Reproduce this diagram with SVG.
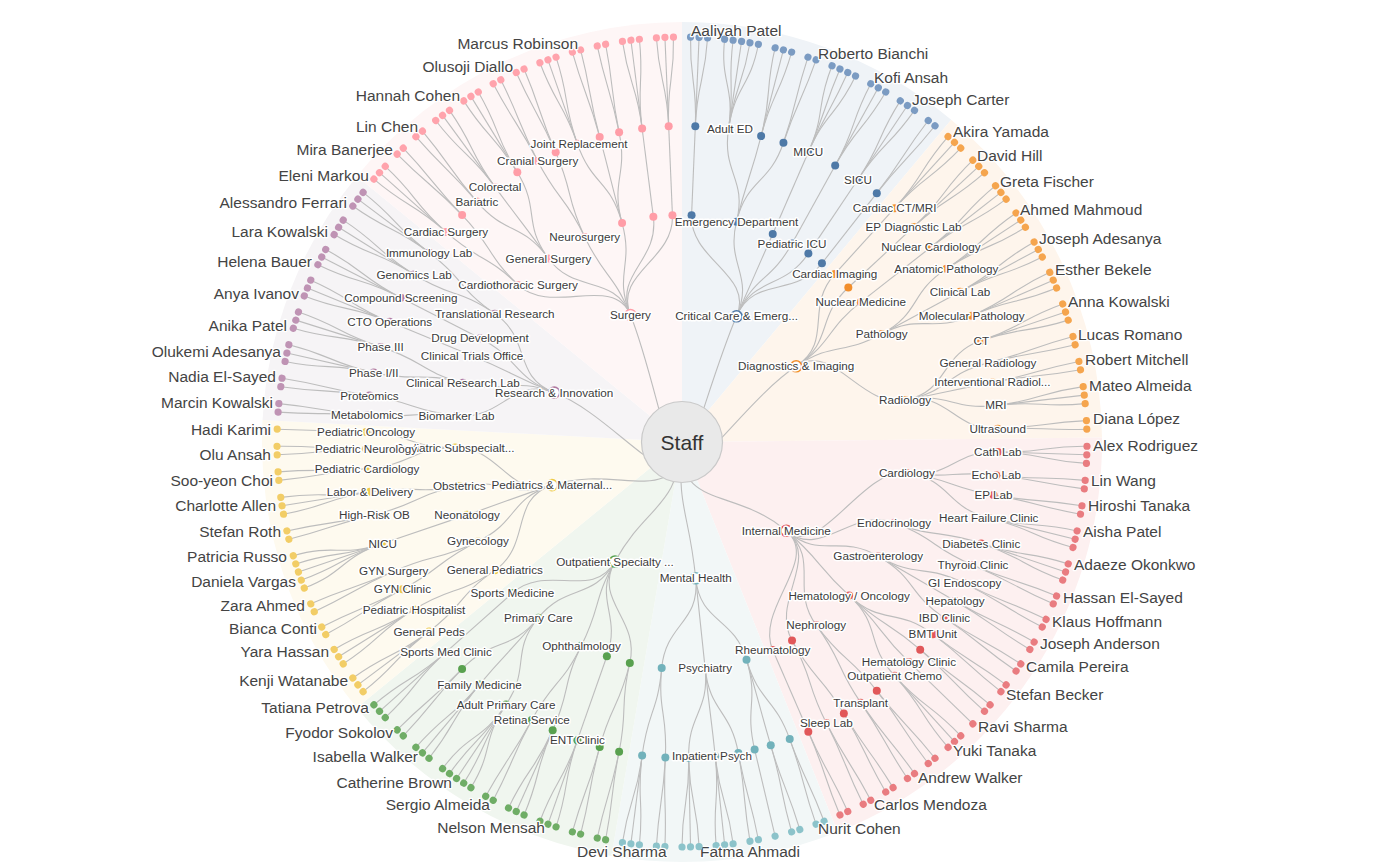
<svg xmlns="http://www.w3.org/2000/svg" width="1381" height="867" viewBox="0 0 1381 867">
<style>
.lk{fill:none;stroke:#bdbdbd;stroke-width:1.1}
.lb{font-family:"Liberation Sans",Arial,sans-serif;font-size:11.7px;fill:#3b3b3b;text-anchor:middle;paint-order:stroke;stroke:#fff;stroke-width:3px;stroke-linejoin:round}
.nm{font-family:"Liberation Sans",Arial,sans-serif;font-size:15.5px;fill:#444;paint-order:stroke;stroke:#fff;stroke-width:2.5px;stroke-linejoin:round}
.e{text-anchor:end}
.ring{fill:#fff;stroke-width:1.6}
.cc{fill:#4e79a7}.dg{fill:#f28e2b}.im{fill:#e15759}.mh{fill:#72b2bb}.os{fill:#59a14f}.pd{fill:#edc948}.rs{fill:#b07aa1}.sg{fill:#ff9da7}
</style>
<defs>
<g id="L1" fill="none" stroke="#bdbdbd" stroke-width="1.1"><path d="M682 126V37"/></g>
<g id="L2" fill="none" stroke="#bdbdbd" stroke-width="1.1"><path d="M682 126C682 81.5 678.2 81.52 677.73 37.02"/><path d="M682 126C682 81.5 685.8 81.52 686.27 37.02"/></g>
<g id="L3" fill="none" stroke="#bdbdbd" stroke-width="1.1"><path d="M682 126C682 81.5 674.4 81.58 673.46 37.09"/><path d="M682 126V37"/><path d="M682 126C682 81.5 689.6 81.58 690.54 37.09"/></g>
<g id="L4" fill="none" stroke="#bdbdbd" stroke-width="1.1"><path d="M682 126C682 81.5 670.6 81.68 669.19 37.2"/><path d="M682 126C682 81.5 678.2 81.52 677.73 37.02"/><path d="M682 126C682 81.5 685.8 81.52 686.27 37.02"/><path d="M682 126C682 81.5 693.4 81.68 694.81 37.2"/></g>
<g id="L5" fill="none" stroke="#bdbdbd" stroke-width="1.1"><path d="M682 126C682 81.5 666.8 81.82 664.93 37.36"/><path d="M682 126C682 81.5 674.4 81.58 673.46 37.09"/><path d="M682 126V37"/><path d="M682 126C682 81.5 689.6 81.58 690.54 37.09"/><path d="M682 126C682 81.5 697.2 81.82 699.07 37.36"/></g>
<g id="D1"><circle cx="682" cy="37" r="3.6"/></g>
<g id="D2"><circle cx="677.73" cy="37.02" r="3.6"/><circle cx="686.27" cy="37.02" r="3.6"/></g>
<g id="D3"><circle cx="673.46" cy="37.09" r="3.6"/><circle cx="682" cy="37" r="3.6"/><circle cx="690.54" cy="37.09" r="3.6"/></g>
<g id="D4"><circle cx="669.19" cy="37.2" r="3.6"/><circle cx="677.73" cy="37.02" r="3.6"/><circle cx="686.27" cy="37.02" r="3.6"/><circle cx="694.81" cy="37.2" r="3.6"/></g>
<g id="D5"><circle cx="664.93" cy="37.36" r="3.6"/><circle cx="673.46" cy="37.09" r="3.6"/><circle cx="682" cy="37" r="3.6"/><circle cx="690.54" cy="37.09" r="3.6"/><circle cx="699.07" cy="37.36" r="3.6"/></g>
</defs>
<rect width="1381" height="867" fill="#fff"/>
<g id="sectors">
<path d="M682 442L682 22A420 420 0 0 1 951.22 119.63Z" fill="#eff3f7"/>
<path d="M682 442L951.22 119.63A420 420 0 0 1 1101.98 437.57Z" fill="#fef5ec"/>
<path d="M682 442L1101.98 437.57A420 420 0 0 1 837.6 832.11Z" fill="#fdf0f0"/>
<path d="M682 442L837.6 832.11A420 420 0 0 1 611.49 856.04Z" fill="#f2f7f7"/>
<path d="M682 442L611.49 856.04A420 420 0 0 1 356.81 707.81Z" fill="#f0f6ef"/>
<path d="M682 442L356.81 707.81A420 420 0 0 1 262.58 419.88Z" fill="#fefaef"/>
<path d="M682 442L262.58 419.88A420 420 0 0 1 356.8 176.2Z" fill="#f6f4f6"/>
<path d="M682 442L356.8 176.2A420 420 0 0 1 682 22Z" fill="#fef6f6"/>
</g>
<g id="connectors" class="lk">
<path d="M682 442C676.84 510.31 709.27 379.16 736.54 316.32"/>
<path d="M736.54 316.32C754.45 275.04 689.67 260.16 691.57 215.2"/>
<path d="M736.54 316.32C754.45 275.04 725.7 265.33 736.51 221.64"/>
<path d="M736.54 316.32C754.45 275.04 754.74 275.17 772.73 233.92"/>
<path d="M736.54 316.32C754.45 275.04 770.22 282.81 792.03 243.45"/>
<path d="M736.54 316.32C754.45 275.04 783.32 290.81 808.37 253.43"/>
<path d="M736.54 316.32C754.45 275.04 794.19 298.69 821.93 263.26"/>
<path d="M691.57 215.2L695.32 126.28"/>
<path d="M736.51 221.64C747.2 178.44 721.93 173.45 728.47 129.43"/>
<path d="M736.51 221.64C747.2 178.44 749.96 179.14 761.1 136.06"/>
<path d="M736.51 221.64C747.2 178.44 769.16 184.87 783.45 142.73"/>
<path d="M772.73 233.92L808.3 152.34"/>
<path d="M792.03 243.45L835.17 165.6"/>
<path d="M808.37 253.43L857.91 179.5"/>
<path d="M821.93 263.26L876.79 193.18"/>
<path d="M682 442C676.84 510.31 739.1 404.16 796.2 366.31"/>
<path d="M796.2 366.31C833.71 341.45 804.45 307.35 834.72 274.05"/>
<path d="M796.2 366.31C833.71 341.45 815.35 318.14 848.33 287.52"/>
<path d="M796.2 366.31C833.71 341.45 825.31 329.82 860.75 302.08"/>
<path d="M796.2 366.31C833.71 341.45 842.12 355.47 881.71 334.07"/>
<path d="M796.2 366.31C833.71 341.45 860.88 408.42 905.11 400.12"/>
<path d="M834.72 274.05L894.6 208.21"/>
<path d="M848.33 287.52L913.54 226.95"/>
<path d="M860.75 302.08L930.83 247.22"/>
<path d="M881.71 334.07C920.85 312.91 909.13 293.25 946.35 268.87"/>
<path d="M881.71 334.07L960 291.75"/>
<path d="M881.71 334.07C920.85 312.91 930.88 333.49 971.67 315.7"/>
<path d="M905.11 400.12C948.85 391.91 939.13 354.84 981.28 340.55"/>
<path d="M905.11 400.12C948.85 391.91 944.86 374.04 987.94 362.9"/>
<path d="M905.11 400.12C948.85 391.91 948.63 390.79 992.33 382.39"/>
<path d="M905.11 400.12C948.85 391.91 951.68 410.58 995.88 405.43"/>
<path d="M905.11 400.12C948.85 391.91 953.26 430.56 997.72 428.68"/>
<path d="M682 442C676.84 510.31 734.18 486.38 786.36 530.76"/>
<path d="M786.36 530.76C820.64 559.92 862.29 466.86 906.87 473.01"/>
<path d="M786.36 530.76C820.64 559.92 852.1 506.74 894.15 522.75"/>
<path d="M786.36 530.76C820.64 559.92 839.3 533.55 878.19 556.19"/>
<path d="M786.36 530.76C820.64 559.92 816.01 565.16 849.14 595.61"/>
<path d="M786.36 530.76C820.64 559.92 789.6 588.79 816.2 625.08"/>
<path d="M786.36 530.76C820.64 559.92 770.22 601.19 792.03 640.55"/>
<path d="M786.36 530.76C820.64 559.92 754.75 608.83 772.73 650.08"/>
<path d="M906.87 473.01C950.95 479.09 953.36 450.58 997.84 451.99"/>
<path d="M906.87 473.01C950.95 479.09 951.99 470.57 996.25 475.25"/>
<path d="M906.87 473.01C950.95 479.09 949.65 487.58 993.52 495.05"/>
<path d="M906.87 473.01C950.95 479.09 945.56 507.19 988.76 517.87"/>
<path d="M894.15 522.75C935.74 538.58 939.13 529.16 981.27 543.45"/>
<path d="M894.15 522.75C935.74 538.58 932 547.88 972.98 565.23"/>
<path d="M878.19 556.19C916.65 578.58 924.81 563.48 964.61 583.39"/>
<path d="M878.19 556.19L955.11 600.96"/>
<path d="M878.19 556.19C916.65 578.58 907.54 593.14 944.5 617.91"/>
<path d="M849.14 595.61C881.91 625.72 897.52 607.11 932.85 634.18"/>
<path d="M849.14 595.61C881.91 625.72 886.65 620.41 920.19 649.65"/>
<path d="M849.14 595.61C881.91 625.72 876.96 630.95 908.91 661.92"/>
<path d="M849.14 595.61C881.91 625.72 864.68 642.85 894.62 675.77"/>
<path d="M816.2 625.08C842.51 660.98 849.35 655.79 876.78 690.83"/>
<path d="M816.2 625.08C842.51 660.98 835.51 665.93 860.68 702.64"/>
<path d="M792.03 640.55C813.6 679.47 821.05 675.19 843.84 713.42"/>
<path d="M792.03 640.55C813.6 679.47 806.03 683.52 826.36 723.1"/>
<path d="M772.73 650.08L808.31 731.66"/>
<path d="M682 442C676.84 510.31 688.85 510.16 695.7 578.31"/>
<path d="M695.7 578.31C700.2 623.09 733.72 616.5 746.51 659.64"/>
<path d="M695.7 578.31C700.2 623.09 700.52 623.06 705.1 667.82"/>
<path d="M695.7 578.31C700.2 623.09 665.71 623.27 661.69 668.09"/>
<path d="M746.51 659.64C759.15 702.31 774.55 697.24 789.72 739.07"/>
<path d="M746.51 659.64C759.15 702.31 758.24 702.57 770.74 745.28"/>
<path d="M746.51 659.64C759.15 702.31 744.41 706.23 754.64 749.54"/>
<path d="M705.1 667.82C709.63 712.09 730.4 709.15 738.34 752.94"/>
<path d="M705.1 667.82C709.63 712.09 710.57 711.99 715.26 756.25"/>
<path d="M705.1 667.82C709.63 712.09 687.73 713.44 688.67 757.93"/>
<path d="M661.69 668.09C657.71 712.41 667.7 713.12 665.35 757.56"/>
<path d="M661.69 668.09C657.71 712.41 647.74 711.33 642.13 755.48"/>
<path d="M682 442C676.84 510.31 648.48 501.74 614.96 561.48"/>
<path d="M614.96 561.48C592.95 600.73 640.17 619.13 629.82 662.92"/>
<path d="M614.96 561.48C592.95 600.73 621.76 613.74 606.87 656.2"/>
<path d="M614.96 561.48C592.95 600.73 601.43 605.2 581.51 645.55"/>
<path d="M614.96 561.48C592.95 600.73 566.82 582.92 538.34 617.76"/>
<path d="M614.96 561.48C592.95 600.73 546.07 563.02 512.46 592.95"/>
<path d="M629.82 662.92C619.6 706.23 627.98 708.07 619.13 751.68"/>
<path d="M629.82 662.92C619.6 706.23 611.27 704.13 599.68 747.09"/>
<path d="M606.87 656.2L577.41 740.19"/>
<path d="M581.51 645.55C561.81 685.45 570.88 689.72 552.67 730.32"/>
<path d="M581.51 645.55C561.81 685.45 552.91 680.85 531.75 719.99"/>
<path d="M538.34 617.76C510.18 652.22 530.86 667.54 506.09 704.5"/>
<path d="M538.34 617.76C510.18 652.22 507.97 650.39 479.45 684.55"/>
<path d="M538.34 617.76C510.18 652.22 493.05 636.96 462.08 668.92"/>
<path d="M512.46 592.95L445.98 652.13"/>
<path d="M682 442C676.84 510.31 616.98 463.56 551.96 485.12"/>
<path d="M551.96 485.12C509.24 499.28 531.88 544.91 494.76 570.35"/>
<path d="M551.96 485.12C509.24 499.28 518.38 521.71 477.93 541.42"/>
<path d="M551.96 485.12C509.24 499.28 509.63 500.43 467.01 514.87"/>
<path d="M551.96 485.12C509.24 499.28 503.45 477.28 459.3 486"/>
<path d="M551.96 485.12C509.24 499.28 500.05 446.48 455.07 447.59"/>
<path d="M494.76 570.35C458.05 595.51 464.73 604.81 429.12 631.5"/>
<path d="M494.76 570.35C458.05 595.51 451.79 585.93 414.06 609.52"/>
<path d="M477.93 541.42C437.92 560.91 441.8 568.57 402.43 589.31"/>
<path d="M477.93 541.42C437.92 560.91 434.28 553.13 393.68 571.35"/>
<path d="M467.01 514.87L382.72 543.45"/>
<path d="M459.3 486C415.65 494.62 417.77 504.41 374.46 514.64"/>
<path d="M459.3 486C415.65 494.62 413.89 484.76 369.94 491.76"/>
<path d="M455.07 447.59C410.58 448.68 411.46 464.87 367.12 468.62"/>
<path d="M455.07 447.59C410.58 448.68 410.56 447.73 366.07 448.67"/>
<path d="M455.07 447.59C410.58 448.68 410.64 433.42 366.16 432.01"/>
<path d="M682 442C676.84 510.31 618.11 417.3 554.22 392.59"/>
<path d="M554.22 392.59C512.25 376.36 501.22 420.94 456.52 415.74"/>
<path d="M554.22 392.59C512.25 376.36 506.28 394.59 462.84 382.87"/>
<path d="M554.22 392.59C512.25 376.36 513.67 372.79 472.05 355.68"/>
<path d="M554.22 392.59C512.25 376.36 520.1 358.87 480.07 338.32"/>
<path d="M554.22 392.59C512.25 376.36 531.88 339.09 494.76 313.64"/>
<path d="M456.52 415.74C412.32 410.59 411.46 419.13 367.12 415.39"/>
<path d="M456.52 415.74C412.32 410.59 413.45 402.08 369.43 395.54"/>
<path d="M462.84 382.87C419.87 371.27 417.12 382.39 373.71 372.62"/>
<path d="M462.84 382.87C419.87 371.27 423.09 360.28 380.65 346.89"/>
<path d="M472.05 355.68L389.73 321.84"/>
<path d="M480.07 338.32L400.9 297.66"/>
<path d="M494.76 313.64C458.06 288.48 451.8 298.08 414.07 274.49"/>
<path d="M494.76 313.64C458.06 288.48 464.71 279.22 429.09 252.54"/>
<path d="M682 442C676.84 510.31 656.23 378.53 630.46 315.06"/>
<path d="M630.46 315.06C613.53 273.37 550.62 316.05 518.14 284.91"/>
<path d="M630.46 315.06C613.53 273.37 574.92 294.83 548.44 258.45"/>
<path d="M630.46 315.06C613.53 273.37 604.02 277.55 584.74 236.89"/>
<path d="M630.46 315.06C613.53 273.37 633.97 266.45 622.09 223.05"/>
<path d="M630.46 315.06C613.53 273.37 659.04 261.45 653.36 216.81"/>
<path d="M630.46 315.06C613.53 273.37 674.33 260.16 672.43 215.2"/>
<path d="M518.14 284.91C486.01 254.11 479.21 261.47 445.98 231.88"/>
<path d="M518.14 284.91C486.01 254.11 493.08 247.01 462.11 215.05"/>
<path d="M548.44 258.45C522.26 222.47 505.77 235.45 476.89 201.6"/>
<path d="M548.44 258.45C522.26 222.47 521.48 223.03 495.17 187.14"/>
<path d="M548.44 258.45C522.26 222.47 540.51 210.29 517.32 172.31"/>
<path d="M584.74 236.89C565.67 196.68 557.98 200.48 537.65 160.9"/>
<path d="M584.74 236.89C565.67 196.68 573.48 193.13 555.69 152.34"/>
<path d="M622.09 223.05C610.35 180.12 592.13 185.8 577.4 143.81"/>
<path d="M622.09 223.05C610.35 180.12 611.27 179.87 599.68 136.91"/>
<path d="M622.09 223.05C610.35 180.12 627.98 175.93 619.12 132.32"/>
<path d="M653.36 216.81L642.13 128.52"/>
<path d="M672.43 215.2L668.68 126.28"/>
<use href="#L3" transform="rotate(2.416 682 442)"/>
<use href="#L5" transform="rotate(8.456 682 442)"/>
<use href="#L3" transform="rotate(14.497 682 442)"/>
<use href="#L2" transform="rotate(18.725 682 442)"/>
<use href="#L4" transform="rotate(23.557 682 442)"/>
<use href="#L3" transform="rotate(28.993 682 442)"/>
<use href="#L3" transform="rotate(33.825 682 442)"/>
<use href="#L2" transform="rotate(38.054 682 442)"/>
<use href="#L3" transform="rotate(42.282 682 442)"/>
<use href="#L3" transform="rotate(47.114 682 442)"/>
<use href="#L3" transform="rotate(51.946 682 442)"/>
<use href="#L3" transform="rotate(56.778 682 442)"/>
<use href="#L3" transform="rotate(61.611 682 442)"/>
<use href="#L3" transform="rotate(66.443 682 442)"/>
<use href="#L3" transform="rotate(71.275 682 442)"/>
<use href="#L2" transform="rotate(75.503 682 442)"/>
<use href="#L2" transform="rotate(79.127 682 442)"/>
<use href="#L3" transform="rotate(83.355 682 442)"/>
<use href="#L2" transform="rotate(87.584 682 442)"/>
<use href="#L3" transform="rotate(91.812 682 442)"/>
<use href="#L2" transform="rotate(96.04 682 442)"/>
<use href="#L2" transform="rotate(99.664 682 442)"/>
<use href="#L3" transform="rotate(103.892 682 442)"/>
<use href="#L3" transform="rotate(108.725 682 442)"/>
<use href="#L2" transform="rotate(112.953 682 442)"/>
<use href="#L2" transform="rotate(116.577 682 442)"/>
<use href="#L2" transform="rotate(120.201 682 442)"/>
<use href="#L2" transform="rotate(123.825 682 442)"/>
<use href="#L2" transform="rotate(127.449 682 442)"/>
<use href="#L2" transform="rotate(131.073 682 442)"/>
<use href="#L1" transform="rotate(134.094 682 442)"/>
<use href="#L3" transform="rotate(137.718 682 442)"/>
<use href="#L2" transform="rotate(141.946 682 442)"/>
<use href="#L2" transform="rotate(145.57 682 442)"/>
<use href="#L2" transform="rotate(149.194 682 442)"/>
<use href="#L2" transform="rotate(152.818 682 442)"/>
<use href="#L2" transform="rotate(156.442 682 442)"/>
<use href="#L2" transform="rotate(160.067 682 442)"/>
<use href="#L2" transform="rotate(163.691 682 442)"/>
<use href="#L1" transform="rotate(166.711 682 442)"/>
<use href="#L2" transform="rotate(169.731 682 442)"/>
<use href="#L3" transform="rotate(173.959 682 442)"/>
<use href="#L3" transform="rotate(178.791 682 442)"/>
<use href="#L2" transform="rotate(183.02 682 442)"/>
<use href="#L3" transform="rotate(187.248 682 442)"/>
<use href="#L2" transform="rotate(191.476 682 442)"/>
<use href="#L2" transform="rotate(195.1 682 442)"/>
<use href="#L3" transform="rotate(199.328 682 442)"/>
<use href="#L3" transform="rotate(204.16 682 442)"/>
<use href="#L2" transform="rotate(208.389 682 442)"/>
<use href="#L5" transform="rotate(213.825 682 442)"/>
<use href="#L3" transform="rotate(219.865 682 442)"/>
<use href="#L2" transform="rotate(224.093 682 442)"/>
<use href="#L3" transform="rotate(228.321 682 442)"/>
<use href="#L3" transform="rotate(233.154 682 442)"/>
<use href="#L3" transform="rotate(237.986 682 442)"/>
<use href="#L2" transform="rotate(242.214 682 442)"/>
<use href="#L2" transform="rotate(245.838 682 442)"/>
<use href="#L5" transform="rotate(251.274 682 442)"/>
<use href="#L2" transform="rotate(256.711 682 442)"/>
<use href="#L3" transform="rotate(260.939 682 442)"/>
<use href="#L2" transform="rotate(265.167 682 442)"/>
<use href="#L2" transform="rotate(268.791 682 442)"/>
<use href="#L1" transform="rotate(271.811 682 442)"/>
<use href="#L2" transform="rotate(274.831 682 442)"/>
<use href="#L2" transform="rotate(278.455 682 442)"/>
<use href="#L3" transform="rotate(282.684 682 442)"/>
<use href="#L3" transform="rotate(287.516 682 442)"/>
<use href="#L3" transform="rotate(292.348 682 442)"/>
<use href="#L3" transform="rotate(297.18 682 442)"/>
<use href="#L3" transform="rotate(302.013 682 442)"/>
<use href="#L3" transform="rotate(306.845 682 442)"/>
<use href="#L3" transform="rotate(311.677 682 442)"/>
<use href="#L2" transform="rotate(315.905 682 442)"/>
<use href="#L2" transform="rotate(319.529 682 442)"/>
<use href="#L3" transform="rotate(323.757 682 442)"/>
<use href="#L3" transform="rotate(328.59 682 442)"/>
<use href="#L2" transform="rotate(332.818 682 442)"/>
<use href="#L2" transform="rotate(336.442 682 442)"/>
<use href="#L3" transform="rotate(340.671 682 442)"/>
<use href="#L2" transform="rotate(344.899 682 442)"/>
<use href="#L2" transform="rotate(348.523 682 442)"/>
<use href="#L3" transform="rotate(352.752 682 442)"/>
<use href="#L3" transform="rotate(357.584 682 442)"/>
</g>
<g id="n-staff"><circle cx="682" cy="442" r="40.5" fill="#e9e9e9" stroke="#c9c9c9" stroke-width="1.2"/><text x="682" y="449.5" text-anchor="middle" font-family="Liberation Sans, Arial, sans-serif" font-size="21" fill="#333">Staff</text></g>
<g id="leaves">
<g id="lf-cc-a"><use href="#D3" transform="rotate(2.416 682 442)" fill="#7b9bc2"/><text class="nm" x="691" y="36">Aaliyah Patel</text></g>
<g id="lf-cc-b"><use href="#D5" transform="rotate(8.456 682 442)" fill="#7b9bc2"/></g>
<g id="lf-cc-c"><use href="#D3" transform="rotate(14.497 682 442)" fill="#7b9bc2"/></g>
<g id="lf-cc-d"><use href="#D2" transform="rotate(18.725 682 442)" fill="#7b9bc2"/><text class="nm" x="818" y="59">Roberto Bianchi</text></g>
<g id="lf-cc-e"><use href="#D4" transform="rotate(23.557 682 442)" fill="#7b9bc2"/></g>
<g id="lf-cc-f"><use href="#D3" transform="rotate(28.993 682 442)" fill="#7b9bc2"/><text class="nm" x="874" y="83">Kofi Ansah</text></g>
<g id="lf-cc-g"><use href="#D3" transform="rotate(33.825 682 442)" fill="#7b9bc2"/><text class="nm" x="912" y="105">Joseph Carter</text></g>
<g id="lf-cc-h"><use href="#D2" transform="rotate(38.054 682 442)" fill="#7b9bc2"/></g>
<g id="lf-dg-1"><use href="#D3" transform="rotate(42.282 682 442)" fill="#f5a54e"/><text class="nm" x="953" y="137">Akira Yamada</text></g>
<g id="lf-dg-2"><use href="#D3" transform="rotate(47.114 682 442)" fill="#f5a54e"/><text class="nm" x="977" y="161">David Hill</text></g>
<g id="lf-dg-3"><use href="#D3" transform="rotate(51.946 682 442)" fill="#f5a54e"/><text class="nm" x="1000" y="187">Greta Fischer</text></g>
<g id="lf-dg-4"><use href="#D3" transform="rotate(56.778 682 442)" fill="#f5a54e"/><text class="nm" x="1020" y="215">Ahmed Mahmoud</text></g>
<g id="lf-dg-5"><use href="#D3" transform="rotate(61.611 682 442)" fill="#f5a54e"/><text class="nm" x="1039" y="244">Joseph Adesanya</text></g>
<g id="lf-dg-6"><use href="#D3" transform="rotate(66.443 682 442)" fill="#f5a54e"/><text class="nm" x="1055" y="275">Esther Bekele</text></g>
<g id="lf-dg-7"><use href="#D3" transform="rotate(71.275 682 442)" fill="#f5a54e"/><text class="nm" x="1068" y="307">Anna Kowalski</text></g>
<g id="lf-dg-8"><use href="#D2" transform="rotate(75.503 682 442)" fill="#f5a54e"/><text class="nm" x="1078" y="340">Lucas Romano</text></g>
<g id="lf-dg-9"><use href="#D2" transform="rotate(79.127 682 442)" fill="#f5a54e"/><text class="nm" x="1085" y="365">Robert Mitchell</text></g>
<g id="lf-dg-10"><use href="#D3" transform="rotate(83.355 682 442)" fill="#f5a54e"/><text class="nm" x="1089" y="391">Mateo Almeida</text></g>
<g id="lf-dg-11"><use href="#D2" transform="rotate(87.584 682 442)" fill="#f5a54e"/><text class="nm" x="1093" y="424">Diana López</text></g>
<g id="lf-im-1"><use href="#D3" transform="rotate(91.812 682 442)" fill="#e97c80"/><text class="nm" x="1093" y="451">Alex Rodriguez</text></g>
<g id="lf-im-2"><use href="#D2" transform="rotate(96.04 682 442)" fill="#e97c80"/><text class="nm" x="1091" y="486">Lin Wang</text></g>
<g id="lf-im-3"><use href="#D2" transform="rotate(99.664 682 442)" fill="#e97c80"/><text class="nm" x="1088" y="511">Hiroshi Tanaka</text></g>
<g id="lf-im-4"><use href="#D3" transform="rotate(103.892 682 442)" fill="#e97c80"/><text class="nm" x="1083" y="537">Aisha Patel</text></g>
<g id="lf-im-5"><use href="#D3" transform="rotate(108.725 682 442)" fill="#e97c80"/><text class="nm" x="1074" y="570">Adaeze Okonkwo</text></g>
<g id="lf-im-6"><use href="#D2" transform="rotate(112.953 682 442)" fill="#e97c80"/><text class="nm" x="1063" y="603">Hassan El-Sayed</text></g>
<g id="lf-im-7"><use href="#D2" transform="rotate(116.577 682 442)" fill="#e97c80"/><text class="nm" x="1052" y="627">Klaus Hoffmann</text></g>
<g id="lf-im-8"><use href="#D2" transform="rotate(120.201 682 442)" fill="#e97c80"/><text class="nm" x="1040" y="649">Joseph Anderson</text></g>
<g id="lf-im-9"><use href="#D2" transform="rotate(123.825 682 442)" fill="#e97c80"/><text class="nm" x="1026" y="672">Camila Pereira</text></g>
<g id="lf-im-10"><use href="#D2" transform="rotate(127.449 682 442)" fill="#e97c80"/><text class="nm" x="1006" y="700">Stefan Becker</text></g>
<g id="lf-im-11"><use href="#D2" transform="rotate(131.073 682 442)" fill="#e97c80"/></g>
<g id="lf-im-12"><use href="#D1" transform="rotate(134.094 682 442)" fill="#e97c80"/><text class="nm" x="978" y="732">Ravi Sharma</text></g>
<g id="lf-im-13"><use href="#D3" transform="rotate(137.718 682 442)" fill="#e97c80"/><text class="nm" x="953" y="756">Yuki Tanaka</text></g>
<g id="lf-im-14"><use href="#D2" transform="rotate(141.946 682 442)" fill="#e97c80"/></g>
<g id="lf-im-15"><use href="#D2" transform="rotate(145.57 682 442)" fill="#e97c80"/><text class="nm" x="918" y="783">Andrew Walker</text></g>
<g id="lf-im-16"><use href="#D2" transform="rotate(149.194 682 442)" fill="#e97c80"/></g>
<g id="lf-im-17"><use href="#D2" transform="rotate(152.818 682 442)" fill="#e97c80"/><text class="nm" x="874" y="810">Carlos Mendoza</text></g>
<g id="lf-im-18"><use href="#D2" transform="rotate(156.442 682 442)" fill="#e97c80"/></g>
<g id="lf-mh-1"><use href="#D2" transform="rotate(160.067 682 442)" fill="#8cc3ca"/><text class="nm" x="818" y="834">Nurit Cohen</text></g>
<g id="lf-mh-2"><use href="#D2" transform="rotate(163.691 682 442)" fill="#8cc3ca"/></g>
<g id="lf-mh-3"><use href="#D1" transform="rotate(166.711 682 442)" fill="#8cc3ca"/></g>
<g id="lf-mh-4"><use href="#D2" transform="rotate(169.731 682 442)" fill="#8cc3ca"/></g>
<g id="lf-mh-5"><use href="#D3" transform="rotate(173.959 682 442)" fill="#8cc3ca"/><text class="nm" x="700" y="857">Fatma Ahmadi</text></g>
<g id="lf-mh-6"><use href="#D3" transform="rotate(178.791 682 442)" fill="#8cc3ca"/></g>
<g id="lf-mh-7"><use href="#D2" transform="rotate(183.02 682 442)" fill="#8cc3ca"/></g>
<g id="lf-mh-8"><use href="#D3" transform="rotate(187.248 682 442)" fill="#8cc3ca"/><text class="nm" x="577" y="857">Devi Sharma</text></g>
<g id="lf-os-1"><use href="#D2" transform="rotate(191.476 682 442)" fill="#6fad66"/></g>
<g id="lf-os-2"><use href="#D2" transform="rotate(195.1 682 442)" fill="#6fad66"/></g>
<g id="lf-os-3"><use href="#D3" transform="rotate(199.328 682 442)" fill="#6fad66"/><text class="nm e" x="545" y="833">Nelson Mensah</text></g>
<g id="lf-os-4"><use href="#D3" transform="rotate(204.16 682 442)" fill="#6fad66"/></g>
<g id="lf-os-5"><use href="#D2" transform="rotate(208.389 682 442)" fill="#6fad66"/><text class="nm e" x="490" y="810">Sergio Almeida</text></g>
<g id="lf-os-6"><use href="#D5" transform="rotate(213.825 682 442)" fill="#6fad66"/><text class="nm e" x="452" y="788">Catherine Brown</text></g>
<g id="lf-os-7"><use href="#D3" transform="rotate(219.865 682 442)" fill="#6fad66"/><text class="nm e" x="418" y="762">Isabella Walker</text></g>
<g id="lf-os-8"><use href="#D2" transform="rotate(224.093 682 442)" fill="#6fad66"/><text class="nm e" x="393" y="738">Fyodor Sokolov</text></g>
<g id="lf-os-9"><use href="#D3" transform="rotate(228.321 682 442)" fill="#6fad66"/><text class="nm e" x="369" y="713">Tatiana Petrova</text></g>
<g id="lf-pd-1"><use href="#D3" transform="rotate(233.154 682 442)" fill="#f2cd66"/><text class="nm e" x="348" y="686">Kenji Watanabe</text></g>
<g id="lf-pd-2"><use href="#D3" transform="rotate(237.986 682 442)" fill="#f2cd66"/><text class="nm e" x="329" y="657">Yara Hassan</text></g>
<g id="lf-pd-3"><use href="#D2" transform="rotate(242.214 682 442)" fill="#f2cd66"/><text class="nm e" x="317" y="634">Bianca Conti</text></g>
<g id="lf-pd-4"><use href="#D2" transform="rotate(245.838 682 442)" fill="#f2cd66"/><text class="nm e" x="305" y="611">Zara Ahmed</text></g>
<g id="lf-pd-5"><use href="#D5" transform="rotate(251.274 682 442)" fill="#f2cd66"/><text class="nm e" x="287" y="562">Patricia Russo</text><text class="nm e" x="296" y="587">Daniela Vargas</text></g>
<g id="lf-pd-6"><use href="#D2" transform="rotate(256.711 682 442)" fill="#f2cd66"/><text class="nm e" x="281" y="537">Stefan Roth</text></g>
<g id="lf-pd-7"><use href="#D3" transform="rotate(260.939 682 442)" fill="#f2cd66"/><text class="nm e" x="276" y="511">Charlotte Allen</text></g>
<g id="lf-pd-8"><use href="#D2" transform="rotate(265.167 682 442)" fill="#f2cd66"/><text class="nm e" x="273" y="486">Soo-yeon Choi</text></g>
<g id="lf-pd-9"><use href="#D2" transform="rotate(268.791 682 442)" fill="#f2cd66"/><text class="nm e" x="271" y="460">Olu Ansah</text></g>
<g id="lf-pd-10"><use href="#D1" transform="rotate(271.811 682 442)" fill="#f2cd66"/><text class="nm e" x="271" y="435">Hadi Karimi</text></g>
<g id="lf-rs-1"><use href="#D2" transform="rotate(274.831 682 442)" fill="#bf93b4"/><text class="nm e" x="273" y="408">Marcin Kowalski</text></g>
<g id="lf-rs-2"><use href="#D2" transform="rotate(278.455 682 442)" fill="#bf93b4"/><text class="nm e" x="276" y="382">Nadia El-Sayed</text></g>
<g id="lf-rs-3"><use href="#D3" transform="rotate(282.684 682 442)" fill="#bf93b4"/><text class="nm e" x="281" y="357">Olukemi Adesanya</text></g>
<g id="lf-rs-4"><use href="#D3" transform="rotate(287.516 682 442)" fill="#bf93b4"/><text class="nm e" x="287" y="331">Anika Patel</text></g>
<g id="lf-rs-5"><use href="#D3" transform="rotate(292.348 682 442)" fill="#bf93b4"/><text class="nm e" x="299" y="299">Anya Ivanov</text></g>
<g id="lf-rs-6"><use href="#D3" transform="rotate(297.18 682 442)" fill="#bf93b4"/><text class="nm e" x="312" y="267">Helena Bauer</text></g>
<g id="lf-rs-7"><use href="#D3" transform="rotate(302.013 682 442)" fill="#bf93b4"/><text class="nm e" x="328" y="237">Lara Kowalski</text></g>
<g id="lf-rs-8"><use href="#D3" transform="rotate(306.845 682 442)" fill="#bf93b4"/><text class="nm e" x="347" y="208">Alessandro Ferrari</text></g>
<g id="lf-sg-1"><use href="#D3" transform="rotate(311.677 682 442)" fill="#ffa3ac"/><text class="nm e" x="369" y="181">Eleni Markou</text></g>
<g id="lf-sg-2"><use href="#D2" transform="rotate(315.905 682 442)" fill="#ffa3ac"/><text class="nm e" x="393" y="155">Mira Banerjee</text></g>
<g id="lf-sg-3"><use href="#D2" transform="rotate(319.529 682 442)" fill="#ffa3ac"/><text class="nm e" x="418" y="132">Lin Chen</text></g>
<g id="lf-sg-4"><use href="#D3" transform="rotate(323.757 682 442)" fill="#ffa3ac"/></g>
<g id="lf-sg-5"><use href="#D3" transform="rotate(328.59 682 442)" fill="#ffa3ac"/><text class="nm e" x="460" y="101">Hannah Cohen</text></g>
<g id="lf-sg-6"><use href="#D2" transform="rotate(332.818 682 442)" fill="#ffa3ac"/></g>
<g id="lf-sg-7"><use href="#D2" transform="rotate(336.442 682 442)" fill="#ffa3ac"/><text class="nm e" x="513" y="72">Olusoji Diallo</text></g>
<g id="lf-sg-8"><use href="#D3" transform="rotate(340.671 682 442)" fill="#ffa3ac"/></g>
<g id="lf-sg-9"><use href="#D2" transform="rotate(344.899 682 442)" fill="#ffa3ac"/><text class="nm e" x="578" y="49">Marcus Robinson</text></g>
<g id="lf-sg-10"><use href="#D2" transform="rotate(348.523 682 442)" fill="#ffa3ac"/></g>
<g id="lf-sg-11"><use href="#D3" transform="rotate(352.752 682 442)" fill="#ffa3ac"/></g>
<g id="lf-sg-12"><use href="#D3" transform="rotate(357.584 682 442)" fill="#ffa3ac"/></g>
</g>
<g id="branches">
<g id="n-critical-care"><circle class="ring" cx="736.54" cy="316.32" r="5.5" stroke="#4e79a7"/><text class="lb" x="736.54" y="320.3">Critical Care &amp; Emerg...</text></g>
<g id="n-diagnostics"><circle class="ring" cx="796.2" cy="366.31" r="5.5" stroke="#f28e2b"/><text class="lb" x="796.2" y="370.3">Diagnostics &amp; Imaging</text></g>
<g id="n-internal-medicine"><circle class="ring" cx="786.36" cy="530.76" r="5.5" stroke="#e15759"/><text class="lb" x="786.36" y="534.8">Internal Medicine</text></g>
<g id="n-mental-health"><circle class="ring" cx="695.7" cy="578.31" r="5.5" stroke="#72b2bb"/><text class="lb" x="695.7" y="582.3">Mental Health</text></g>
<g id="n-outpatient"><circle class="ring" cx="614.96" cy="561.48" r="5.5" stroke="#59a14f"/><text class="lb" x="614.96" y="565.5">Outpatient Specialty ...</text></g>
<g id="n-pediatrics"><circle class="ring" cx="551.96" cy="485.12" r="5.5" stroke="#edc948"/><text class="lb" x="551.96" y="489.1">Pediatrics &amp; Maternal...</text></g>
<g id="n-research"><circle class="ring" cx="554.22" cy="392.59" r="5.5" stroke="#b07aa1"/><text class="lb" x="554.22" y="396.6">Research &amp; Innovation</text></g>
<g id="n-surgery"><circle class="ring" cx="630.46" cy="315.06" r="5.5" stroke="#ff9da7"/><text class="lb" x="630.46" y="319.1">Surgery</text></g>
</g>
<g id="departments">
<g id="n-cc-a"><circle class="cc" cx="691.57" cy="215.2" r="4"/></g>
<g id="n-emergency"><circle class="cc" cx="736.51" cy="221.64" r="4"/><text class="lb" x="736.51" y="225.6">Emergency Department</text></g>
<g id="n-cc-e"><circle class="cc" cx="772.73" cy="233.92" r="4"/></g>
<g id="n-picu"><circle class="cc" cx="792.03" cy="243.45" r="4"/><text class="lb" x="792.03" y="247.5">Pediatric ICU</text></g>
<g id="n-cc-g"><circle class="cc" cx="808.37" cy="253.43" r="4"/></g>
<g id="n-cc-h"><circle class="cc" cx="821.93" cy="263.26" r="4"/></g>
<g id="n-cardiac-imaging"><circle class="dg" cx="834.72" cy="274.05" r="4"/><text class="lb" x="834.72" y="278">Cardiac Imaging</text></g>
<g id="n-dg-u"><circle class="dg" cx="848.33" cy="287.52" r="4"/></g>
<g id="n-nuclear-medicine"><circle class="dg" cx="860.75" cy="302.08" r="4"/><text class="lb" x="860.75" y="306.1">Nuclear Medicine</text></g>
<g id="n-pathology"><circle class="dg" cx="881.71" cy="334.07" r="4"/><text class="lb" x="881.71" y="338.1">Pathology</text></g>
<g id="n-radiology"><circle class="dg" cx="905.11" cy="400.12" r="4"/><text class="lb" x="905.11" y="404.1">Radiology</text></g>
<g id="n-cardiology"><circle class="im" cx="906.87" cy="473.01" r="4"/><text class="lb" x="906.87" y="477">Cardiology</text></g>
<g id="n-endocrinology"><circle class="im" cx="894.15" cy="522.75" r="4"/><text class="lb" x="894.15" y="526.8">Endocrinology</text></g>
<g id="n-gastro"><circle class="im" cx="878.19" cy="556.19" r="4"/><text class="lb" x="878.19" y="560.2">Gastroenterology</text></g>
<g id="n-hemonc"><circle class="im" cx="849.14" cy="595.61" r="4"/><text class="lb" x="849.14" y="599.6">Hematology / Oncology</text></g>
<g id="n-nephrology"><circle class="im" cx="816.2" cy="625.08" r="4"/><text class="lb" x="816.2" y="629.1">Nephrology</text></g>
<g id="n-im-u"><circle class="im" cx="792.03" cy="640.55" r="4"/></g>
<g id="n-rheumatology"><circle class="im" cx="772.73" cy="650.08" r="4"/><text class="lb" x="772.73" y="654.1">Rheumatology</text></g>
<g id="n-mh-a"><circle class="mh" cx="746.51" cy="659.64" r="4"/></g>
<g id="n-psychiatry"><circle class="mh" cx="705.1" cy="667.82" r="4"/><text class="lb" x="705.1" y="671.8">Psychiatry</text></g>
<g id="n-mh-c"><circle class="mh" cx="661.69" cy="668.09" r="4"/></g>
<g id="n-os-a"><circle class="os" cx="629.82" cy="662.92" r="4"/></g>
<g id="n-os-b"><circle class="os" cx="606.87" cy="656.2" r="4"/></g>
<g id="n-ophthalmology"><circle class="os" cx="581.51" cy="645.55" r="4"/><text class="lb" x="581.51" y="649.5">Ophthalmology</text></g>
<g id="n-primary-care"><circle class="os" cx="538.34" cy="617.76" r="4"/><text class="lb" x="538.34" y="621.8">Primary Care</text></g>
<g id="n-sports-medicine"><circle class="os" cx="512.46" cy="592.95" r="4"/><text class="lb" x="512.46" y="597">Sports Medicine</text></g>
<g id="n-general-pediatrics"><circle class="pd" cx="494.76" cy="570.35" r="4"/><text class="lb" x="494.76" y="574.4">General Pediatrics</text></g>
<g id="n-gynecology"><circle class="pd" cx="477.93" cy="541.42" r="4"/><text class="lb" x="477.93" y="545.4">Gynecology</text></g>
<g id="n-neonatology"><circle class="pd" cx="467.01" cy="514.87" r="4"/><text class="lb" x="467.01" y="518.9">Neonatology</text></g>
<g id="n-obstetrics"><circle class="pd" cx="459.3" cy="486" r="4"/><text class="lb" x="459.3" y="490">Obstetrics</text></g>
<g id="n-ped-sub"><circle class="pd" cx="455.07" cy="447.59" r="4"/><text class="lb" x="455.07" y="451.6">Pediatric Subspecialt...</text></g>
<g id="n-biomarker"><circle class="rs" cx="456.52" cy="415.74" r="4"/><text class="lb" x="456.52" y="419.7">Biomarker Lab</text></g>
<g id="n-clin-res-lab"><circle class="rs" cx="462.84" cy="382.87" r="4"/><text class="lb" x="462.84" y="386.9">Clinical Research Lab</text></g>
<g id="n-clin-trials"><circle class="rs" cx="472.05" cy="355.68" r="4"/><text class="lb" x="472.05" y="359.7">Clinical Trials Office</text></g>
<g id="n-drug-dev"><circle class="rs" cx="480.07" cy="338.32" r="4"/><text class="lb" x="480.07" y="342.3">Drug Development</text></g>
<g id="n-translational"><circle class="rs" cx="494.76" cy="313.64" r="4"/><text class="lb" x="494.76" y="317.6">Translational Research</text></g>
<g id="n-cardiothoracic"><circle class="sg" cx="518.14" cy="284.91" r="4"/><text class="lb" x="518.14" y="288.9">Cardiothoracic Surgery</text></g>
<g id="n-general-surgery"><circle class="sg" cx="548.44" cy="258.45" r="4"/><text class="lb" x="548.44" y="262.5">General Surgery</text></g>
<g id="n-neurosurgery"><circle class="sg" cx="584.74" cy="236.89" r="4"/><text class="lb" x="584.74" y="240.9">Neurosurgery</text></g>
<g id="n-sg-orth"><circle class="sg" cx="622.09" cy="223.05" r="4"/></g>
<g id="n-sg-k"><circle class="sg" cx="653.36" cy="216.81" r="4"/></g>
<g id="n-sg-l"><circle class="sg" cx="672.43" cy="215.2" r="4"/></g>
</g>
<g id="units">
<g id="n-cc-1"><circle class="cc" cx="695.32" cy="126.28" r="4"/></g>
<g id="n-adult-ed"><circle class="cc" cx="728.47" cy="129.43" r="4"/><text class="lb" x="730" y="133.4">Adult ED</text></g>
<g id="n-cc-3"><circle class="cc" cx="761.1" cy="136.06" r="4"/></g>
<g id="n-cc-4"><circle class="cc" cx="783.45" cy="142.73" r="4"/></g>
<g id="n-micu"><circle class="cc" cx="808.3" cy="152.34" r="4"/><text class="lb" x="808.3" y="156.3">MICU</text></g>
<g id="n-cc-6"><circle class="cc" cx="835.17" cy="165.6" r="4"/></g>
<g id="n-sicu"><circle class="cc" cx="857.91" cy="179.5" r="4"/><text class="lb" x="857.91" y="183.5">SICU</text></g>
<g id="n-cc-8"><circle class="cc" cx="876.79" cy="193.18" r="4"/></g>
<g id="n-cardiac-ct"><circle class="dg" cx="894.6" cy="208.21" r="4"/><text class="lb" x="894.6" y="212.2">Cardiac CT/MRI</text></g>
<g id="n-ep-diag"><circle class="dg" cx="913.54" cy="226.95" r="4"/><text class="lb" x="913.54" y="231">EP Diagnostic Lab</text></g>
<g id="n-nuc-cardio"><circle class="dg" cx="930.83" cy="247.22" r="4"/><text class="lb" x="930.83" y="251.2">Nuclear Cardiology</text></g>
<g id="n-anatomic"><circle class="dg" cx="946.35" cy="268.87" r="4"/><text class="lb" x="946.35" y="272.9">Anatomic Pathology</text></g>
<g id="n-clinical-lab"><circle class="dg" cx="960" cy="291.75" r="4"/><text class="lb" x="960" y="295.8">Clinical Lab</text></g>
<g id="n-molecular"><circle class="dg" cx="971.67" cy="315.7" r="4"/><text class="lb" x="971.67" y="319.7">Molecular Pathology</text></g>
<g id="n-ct"><circle class="dg" cx="981.28" cy="340.55" r="4"/><text class="lb" x="981.28" y="344.6">CT</text></g>
<g id="n-gen-rad"><circle class="dg" cx="987.94" cy="362.9" r="4"/><text class="lb" x="987.94" y="366.9">General Radiology</text></g>
<g id="n-ir"><circle class="dg" cx="992.33" cy="382.39" r="4"/><text class="lb" x="992.33" y="386.4">Interventional Radiol...</text></g>
<g id="n-mri"><circle class="dg" cx="995.88" cy="405.43" r="4"/><text class="lb" x="995.88" y="409.4">MRI</text></g>
<g id="n-ultrasound"><circle class="dg" cx="997.72" cy="428.68" r="4"/><text class="lb" x="997.72" y="432.7">Ultrasound</text></g>
<g id="n-cath-lab"><circle class="im" cx="997.84" cy="451.99" r="4"/><text class="lb" x="997.84" y="456">Cath Lab</text></g>
<g id="n-echo-lab"><circle class="im" cx="996.25" cy="475.25" r="4"/><text class="lb" x="996.25" y="479.3">Echo Lab</text></g>
<g id="n-ep-lab"><circle class="im" cx="993.52" cy="495.05" r="4"/><text class="lb" x="993.52" y="499">EP Lab</text></g>
<g id="n-heart-failure"><circle class="im" cx="988.76" cy="517.87" r="4"/><text class="lb" x="988.76" y="521.9">Heart Failure Clinic</text></g>
<g id="n-diabetes"><circle class="im" cx="981.27" cy="543.45" r="4"/><text class="lb" x="981.27" y="547.5">Diabetes Clinic</text></g>
<g id="n-thyroid"><circle class="im" cx="972.98" cy="565.23" r="4"/><text class="lb" x="972.98" y="569.2">Thyroid Clinic</text></g>
<g id="n-gi-endo"><circle class="im" cx="964.61" cy="583.39" r="4"/><text class="lb" x="964.61" y="587.4">GI Endoscopy</text></g>
<g id="n-hepatology"><circle class="im" cx="955.11" cy="600.96" r="4"/><text class="lb" x="955.11" y="605">Hepatology</text></g>
<g id="n-ibd"><circle class="im" cx="944.5" cy="617.91" r="4"/><text class="lb" x="944.5" y="621.9">IBD Clinic</text></g>
<g id="n-bmt"><circle class="im" cx="932.85" cy="634.18" r="4"/><text class="lb" x="932.85" y="638.2">BMT Unit</text></g>
<g id="n-im-11"><circle class="im" cx="920.19" cy="649.65" r="4"/></g>
<g id="n-hem-clinic"><circle class="im" cx="908.91" cy="661.92" r="4"/><text class="lb" x="908.91" y="665.9">Hematology Clinic</text></g>
<g id="n-outpt-chemo"><circle class="im" cx="894.62" cy="675.77" r="4"/><text class="lb" x="894.62" y="679.8">Outpatient Chemo</text></g>
<g id="n-im-14"><circle class="im" cx="876.78" cy="690.83" r="4"/></g>
<g id="n-transplant"><circle class="im" cx="860.68" cy="702.64" r="4"/><text class="lb" x="860.68" y="706.6">Transplant</text></g>
<g id="n-im-16"><circle class="im" cx="843.84" cy="713.42" r="4"/></g>
<g id="n-sleep-lab"><circle class="im" cx="826.36" cy="723.1" r="4"/><text class="lb" x="826.36" y="727.1">Sleep Lab</text></g>
<g id="n-im-18"><circle class="im" cx="808.31" cy="731.66" r="4"/></g>
<g id="n-mh-1"><circle class="mh" cx="789.72" cy="739.07" r="4"/></g>
<g id="n-mh-2"><circle class="mh" cx="770.74" cy="745.28" r="4"/></g>
<g id="n-mh-3"><circle class="mh" cx="754.64" cy="749.54" r="4"/></g>
<g id="n-mh-4"><circle class="mh" cx="738.34" cy="752.94" r="4"/></g>
<g id="n-mh-6"><circle class="mh" cx="688.67" cy="757.93" r="4"/></g>
<g id="n-inpatient-psych"><circle class="mh" cx="715.26" cy="756.25" r="4"/><text class="lb" x="712" y="760.2">Inpatient Psych</text></g>
<g id="n-mh-7"><circle class="mh" cx="665.35" cy="757.56" r="4"/></g>
<g id="n-mh-8"><circle class="mh" cx="642.13" cy="755.48" r="4"/></g>
<g id="n-os-1"><circle class="os" cx="619.13" cy="751.68" r="4"/></g>
<g id="n-os-2"><circle class="os" cx="599.68" cy="747.09" r="4"/></g>
<g id="n-ent"><circle class="os" cx="577.41" cy="740.19" r="4"/><text class="lb" x="577.41" y="744.2">ENT Clinic</text></g>
<g id="n-os-4"><circle class="os" cx="552.67" cy="730.32" r="4"/></g>
<g id="n-retina"><circle class="os" cx="531.75" cy="719.99" r="4"/><text class="lb" x="531.75" y="724">Retina Service</text></g>
<g id="n-adult-pc"><circle class="os" cx="506.09" cy="704.5" r="4"/><text class="lb" x="506.09" y="708.5">Adult Primary Care</text></g>
<g id="n-family-med"><circle class="os" cx="479.45" cy="684.55" r="4"/><text class="lb" x="479.45" y="688.6">Family Medicine</text></g>
<g id="n-os-8"><circle class="os" cx="462.08" cy="668.92" r="4"/></g>
<g id="n-sports-med-clinic"><circle class="os" cx="445.98" cy="652.13" r="4"/><text class="lb" x="445.98" y="656.1">Sports Med Clinic</text></g>
<g id="n-general-peds"><circle class="pd" cx="429.12" cy="631.5" r="4"/><text class="lb" x="429.12" y="635.5">General Peds</text></g>
<g id="n-ped-hosp"><circle class="pd" cx="414.06" cy="609.52" r="4"/><text class="lb" x="414.06" y="613.5">Pediatric Hospitalist</text></g>
<g id="n-gyn-clinic"><circle class="pd" cx="402.43" cy="589.31" r="4"/><text class="lb" x="402.43" y="593.3">GYN Clinic</text></g>
<g id="n-gyn-surgery"><circle class="pd" cx="393.68" cy="571.35" r="4"/><text class="lb" x="393.68" y="575.4">GYN Surgery</text></g>
<g id="n-nicu"><circle class="pd" cx="382.72" cy="543.45" r="4"/><text class="lb" x="382.72" y="547.5">NICU</text></g>
<g id="n-high-risk-ob"><circle class="pd" cx="374.46" cy="514.64" r="4"/><text class="lb" x="374.46" y="518.6">High-Risk OB</text></g>
<g id="n-labor"><circle class="pd" cx="369.94" cy="491.76" r="4"/><text class="lb" x="369.94" y="495.8">Labor &amp; Delivery</text></g>
<g id="n-ped-cardio"><circle class="pd" cx="367.12" cy="468.62" r="4"/><text class="lb" x="367.12" y="472.6">Pediatric Cardiology</text></g>
<g id="n-ped-neuro"><circle class="pd" cx="366.07" cy="448.67" r="4"/><text class="lb" x="366.07" y="452.7">Pediatric Neurology</text></g>
<g id="n-ped-onc"><circle class="pd" cx="366.16" cy="432.01" r="4"/><text class="lb" x="366.16" y="436">Pediatric Oncology</text></g>
<g id="n-metabolomics"><circle class="rs" cx="367.12" cy="415.39" r="4"/><text class="lb" x="367.12" y="419.4">Metabolomics</text></g>
<g id="n-proteomics"><circle class="rs" cx="369.43" cy="395.54" r="4"/><text class="lb" x="369.43" y="399.5">Proteomics</text></g>
<g id="n-phase12"><circle class="rs" cx="373.71" cy="372.62" r="4"/><text class="lb" x="373.71" y="376.6">Phase I/II</text></g>
<g id="n-phase3"><circle class="rs" cx="380.65" cy="346.89" r="4"/><text class="lb" x="380.65" y="350.9">Phase III</text></g>
<g id="n-cto"><circle class="rs" cx="389.73" cy="321.84" r="4"/><text class="lb" x="389.73" y="325.8">CTO Operations</text></g>
<g id="n-compound"><circle class="rs" cx="400.9" cy="297.66" r="4"/><text class="lb" x="400.9" y="301.7">Compound Screening</text></g>
<g id="n-genomics"><circle class="rs" cx="414.07" cy="274.49" r="4"/><text class="lb" x="414.07" y="278.5">Genomics Lab</text></g>
<g id="n-immunology"><circle class="rs" cx="429.09" cy="252.54" r="4"/><text class="lb" x="429.09" y="256.5">Immunology Lab</text></g>
<g id="n-cardiac-surgery"><circle class="sg" cx="445.98" cy="231.88" r="4"/><text class="lb" x="445.98" y="235.9">Cardiac Surgery</text></g>
<g id="n-sg-2"><circle class="sg" cx="462.11" cy="215.05" r="4"/></g>
<g id="n-bariatric"><circle class="sg" cx="476.89" cy="201.6" r="4"/><text class="lb" x="476.89" y="205.6">Bariatric</text></g>
<g id="n-colorectal"><circle class="sg" cx="495.17" cy="187.14" r="4"/><text class="lb" x="495.17" y="191.1">Colorectal</text></g>
<g id="n-sg-5"><circle class="sg" cx="517.32" cy="172.31" r="4"/></g>
<g id="n-cranial"><circle class="sg" cx="537.65" cy="160.9" r="4"/><text class="lb" x="537.65" y="164.9">Cranial Surgery</text></g>
<g id="n-sg-7"><circle class="sg" cx="555.69" cy="152.34" r="4"/></g>
<g id="n-sg-9"><circle class="sg" cx="599.68" cy="136.91" r="4"/></g>
<g id="n-joint"><circle class="sg" cx="577.4" cy="143.81" r="4"/><text class="lb" x="579" y="147.8">Joint Replacement</text></g>
<g id="n-sg-10"><circle class="sg" cx="619.12" cy="132.32" r="4"/></g>
<g id="n-sg-11"><circle class="sg" cx="642.13" cy="128.52" r="4"/></g>
<g id="n-sg-12"><circle class="sg" cx="668.68" cy="126.28" r="4"/></g>
</g>
</svg>
